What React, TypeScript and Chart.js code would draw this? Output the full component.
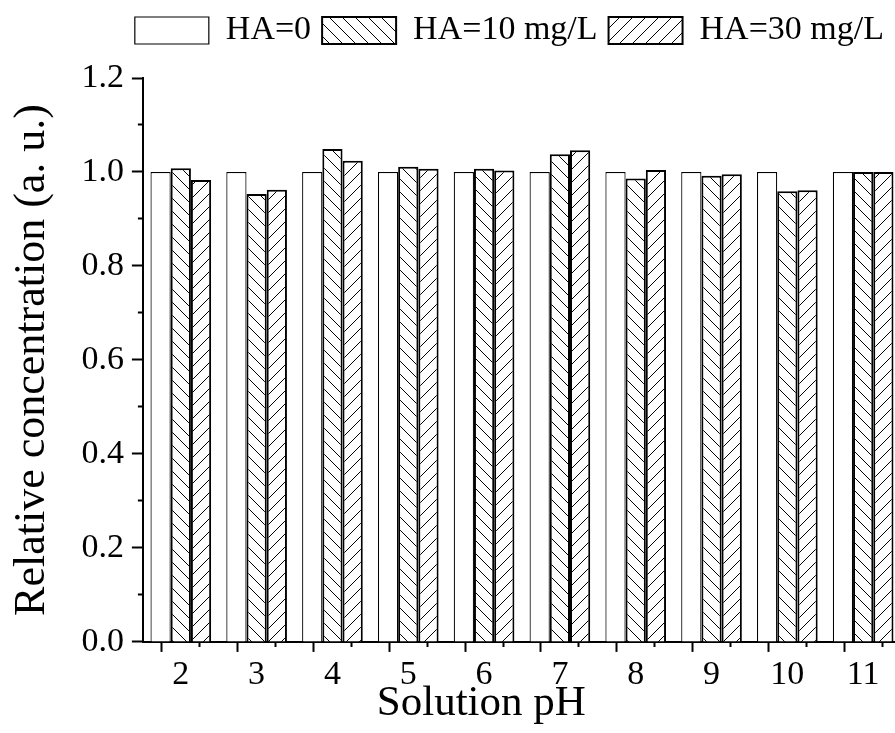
import { useEffect, useRef } from 'react';
import { Chart, registerables } from 'chart.js';

Chart.register(...registerables);

// ---- data ----
const pHValues = [2, 3, 4, 5, 6, 7, 8, 9, 10, 11];
const xTickLabels = ['2', '3', '4', '5', '6', '7', '8', '9', '10', '11'];
const seriesLabels = ['HA=0', 'HA=10 mg/L', 'HA=30 mg/L'];
const ha0 = [1.0, 1.0, 1.0, 1.0, 1.0, 1.0, 1.0, 1.0, 1.0, 1.0];
const ha10 = [1.008, 0.953, 1.049, 1.011, 1.007, 1.038, 0.986, 0.992, 0.959, 1.0];
const ha30 = [0.983, 0.962, 1.024, 1.007, 1.003, 1.046, 1.004, 0.995, 0.961, 1.0];
const yTickLabels = ['0.0', '0.2', '0.4', '0.6', '0.8', '1.0', '1.2'];
const xTitle = 'Solution pH';
const yTitle = 'Relative concentration (a. u.)';

const FAMILY = "'Liberation Serif', 'Times New Roman', serif";
const NBSP = '\u00a0';

function makeHatch(ctx: CanvasRenderingContext2D, dir: 'back' | 'fwd') {
  const s = 13;
  const c = document.createElement('canvas');
  c.width = s;
  c.height = s;
  const g = c.getContext('2d') as CanvasRenderingContext2D;
  g.fillStyle = '#ffffff';
  g.fillRect(0, 0, s, s);
  g.strokeStyle = '#000000';
  g.lineWidth = 1;
  g.beginPath();
  if (dir === 'back') {
    g.moveTo(0, 0); g.lineTo(s, s);
    g.moveTo(-2, s - 2); g.lineTo(2, s + 2);
    g.moveTo(s - 2, -2); g.lineTo(s + 2, 2);
  } else {
    g.moveTo(0, s); g.lineTo(s, 0);
    g.moveTo(-2, 2); g.lineTo(2, -2);
    g.moveTo(s - 2, s + 2); g.lineTo(s + 2, s - 2);
  }
  g.stroke();
  return ctx.createPattern(c, 'repeat') as CanvasPattern;
}

const isNear = (v: number, k: number) => Math.abs(v * k - Math.round(v * k)) < 1e-6;

export default function App() {
  const ref = useRef<HTMLCanvasElement | null>(null);

  useEffect(() => {
    const canvas = ref.current;
    if (!canvas) return;
    const ctx = canvas.getContext('2d') as CanvasRenderingContext2D;
    const hatchBack = makeHatch(ctx, 'back');
    const hatchFwd = makeHatch(ctx, 'fwd');

    const toPts = (arr: number[]) => pHValues.map((x, i) => ({ x, y: arr[i] }));
    // tick spacing (0.5) is half the category spacing, so the group fraction is doubled
    const GROUP = 1.6;

    const chart = new Chart(ctx, {
      type: 'bar',
      data: {
        datasets: [
          {
            label: seriesLabels[0],
            data: toPts(ha0),
            backgroundColor: '#ffffff',
            borderColor: '#000000',
            borderWidth: 1.2,
            categoryPercentage: GROUP,
            barPercentage: 1,
          },
          {
            label: seriesLabels[1],
            data: toPts(ha10),
            backgroundColor: hatchBack,
            borderColor: '#000000',
            borderWidth: 2,
            categoryPercentage: GROUP,
            barPercentage: 1,
          },
          {
            label: seriesLabels[2],
            data: toPts(ha30),
            backgroundColor: hatchFwd,
            borderColor: '#000000',
            borderWidth: 2,
            categoryPercentage: GROUP,
            barPercentage: 1,
          },
        ],
      } as any,
      options: {
        animation: false,
        responsive: false,
        layout: { padding: { top: 2.5, left: 0, right: 0, bottom: 14.6 } },
        plugins: {
          legend: {
            position: 'top',
            align: 'end',
            weight: 3000,
            labels: {
              boxWidth: 74,
              boxHeight: 27,
              padding: 11,
              color: '#000000',
              font: { size: 34, family: FAMILY },
            },
          } as any,
          title: {
            display: true,
            text: '',
            font: { size: 10, lineHeight: 1, family: FAMILY },
            padding: { top: 0, bottom: 10.5 },
          },
          tooltip: { enabled: false },
        },
        scales: {
          x: {
            type: 'linear',
            min: 1.5,
            max: 11.42,
            offset: false,
            grid: {
              display: true,
              drawOnChartArea: false,
              drawTicks: true,
              tickLength: 10,
              tickWidth: 2,
              tickColor: '#000000',
              tickBorderDash: (c: any) => (c.tick && isNear(c.tick.value, 1) ? [] : [4, 100]),
            },
            border: { display: true, color: '#000000', width: 2 },
            ticks: {
              stepSize: 0.5,
              includeBounds: false,
              autoSkip: false,
              maxRotation: 0,
              padding: 6.5,
              color: '#000000',
              font: { size: 34, lineHeight: 1, family: FAMILY },
              callback: (v: any) => {
                const idx = pHValues.indexOf(Number(v));
                return idx >= 0 ? xTickLabels[idx] : '';
              },
            },
            title: {
              display: true,
              text: xTitle + NBSP.repeat(7),
              color: '#000000',
              font: { size: 43, lineHeight: 1, family: FAMILY },
              padding: { top: -16.5, bottom: -7 },
            },
          },
          y: {
            min: 0,
            max: 1.2,
            grid: {
              display: true,
              drawOnChartArea: false,
              drawTicks: true,
              tickLength: 11,
              tickWidth: 2,
              tickColor: '#000000',
              tickBorderDash: (c: any) => (c.tick && isNear(c.tick.value, 5) ? [] : [0, 6, 5, 100]),
            },
            border: { display: true, color: '#000000', width: 2 },
            ticks: {
              stepSize: 0.1,
              autoSkip: false,
              padding: 8,
              color: '#000000',
              font: { size: 34, family: FAMILY },
              callback: (v: any) => {
                const n = Number(v);
                return isNear(n, 5) ? yTickLabels[Math.round(n * 5)] : '';
              },
            },
            title: {
              display: true,
              text: yTitle,
              color: '#000000',
              font: { size: 44, lineHeight: 1.2, family: FAMILY },
              padding: { top: 5.6, bottom: 15 },
            },
          },
        },
      } as any,
    });

    return () => chart.destroy();
  }, []);

  return (
    <div style={{ position: 'fixed', left: 0, top: 0, width: 895, height: 733, background: '#fff' }}>
      <canvas ref={ref} width={895} height={733} style={{ display: 'block' }} />
    </div>
  );
}
